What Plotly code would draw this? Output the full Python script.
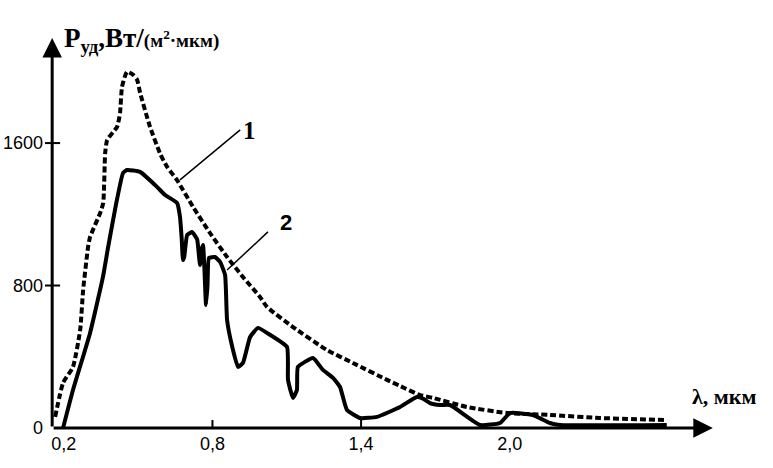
import plotly.graph_objects as go

# curve 1 - dashed (outside atmosphere)
lam1 = [0.165, 0.197, 0.237, 0.266, 0.278, 0.298, 0.306, 0.347, 0.359, 0.367, 0.375,
        0.415, 0.427, 0.435, 0.455, 0.480, 0.496, 0.508, 0.548, 0.589, 0.617, 0.657,
        0.722, 0.790, 0.859, 0.923, 0.992, 1.020, 1.125, 1.262, 1.367, 1.505, 1.557,
        1.638, 1.690, 1.827, 1.989, 2.162, 2.364, 2.634]
p1 = [62, 253, 343, 551, 775, 1017, 1073, 1208, 1264, 1545, 1618,
      1691, 1770, 1916, 2000, 1983, 1955, 1882, 1691, 1540, 1466, 1392,
      1241, 1095, 960, 848, 736, 680, 567, 438, 365, 270, 236,
      185, 169, 118, 84, 73, 56, 45]

# curve 2 - solid (earth surface)
lam2 = [0.197, 0.237, 0.306, 0.358, 0.379, 0.410, 0.439, 0.455, 0.508, 0.576, 0.609,
        0.657, 0.669, 0.676, 0.681, 0.686, 0.698, 0.718, 0.738, 0.746, 0.750, 0.756,
        0.762, 0.768, 0.774, 0.780, 0.786, 0.810, 0.831, 0.851, 0.859, 0.880, 0.903,
        0.923, 0.952, 0.984, 1.020, 1.101, 1.105, 1.125, 1.141, 1.145, 1.206, 1.246,
        1.287, 1.315, 1.343, 1.396, 1.464, 1.557, 1.625, 1.650, 1.678, 1.719, 1.759,
        1.880, 1.961, 2.001, 2.094, 2.162, 2.203, 2.634]
p2 = [0, 213, 534, 848, 1017, 1250, 1432, 1449, 1438, 1354, 1308,
      1264, 1185, 1060, 943, 960, 1084, 1100, 1060, 960, 915, 1000,
      1028, 880, 691, 800, 955, 960, 932, 859, 607, 455, 343,
      365, 511, 562, 534, 455, 270, 169, 213, 343, 393, 326,
      281, 230, 101, 56, 62, 118, 174, 165, 140, 129, 129,
      17, 28, 84, 73, 28, 17, 17]

x_ticks = [0.2, 0.8, 1.4, 2.0]
x_ticktext = ['0,2', '0,8', '1,4', '2,0']
y_ticks = [0, 800, 1600]
y_ticktext = ['0', '800', '1600']

x0_axis = 0.153   # where the vertical axis stands
x_end = 2.82      # arrow tip of lambda axis
y_end = 2190      # arrow tip of P axis

fig = go.Figure()
fig.add_trace(go.Scatter(x=lam1, y=p1, mode='lines',
                         line=dict(color='black', width=4, dash='6px,3px', shape='spline', smoothing=0.5)))
fig.add_trace(go.Scatter(x=lam2, y=p2, mode='lines',
                         line=dict(color='black', width=4, shape='spline', smoothing=0.4)))

# axes with arrows
fig.add_annotation(x=x_end, y=0, ax=x0_axis, ay=0, xref='x', yref='y', axref='x', ayref='y',
                   text='', showarrow=True, arrowhead=2, arrowsize=1.3, arrowwidth=3, arrowcolor='black')
fig.add_annotation(x=x0_axis, y=y_end, ax=x0_axis, ay=0, xref='x', yref='y', axref='x', ayref='y',
                   text='', showarrow=True, arrowhead=2, arrowsize=1.3, arrowwidth=3, arrowcolor='black')

# small tick marks
for v in [800, 1600]:
    fig.add_shape(type='line', x0=0.124, x1=0.185, y0=v, y1=v, xref='x', yref='y',
                  line=dict(color='black', width=2))
for v in [0.8, 1.4]:
    fig.add_shape(type='line', x0=v, x1=v, y0=0, y1=45, xref='x', yref='y',
                  line=dict(color='black', width=2))

# leader lines and curve numbers
fig.add_shape(type='line', x0=0.669, y0=1393, x1=0.912, y1=1674, line=dict(color='black', width=1.5))
fig.add_shape(type='line', x0=0.859, y0=887, x1=1.024, y1=1101, line=dict(color='black', width=1.5))
fig.add_annotation(x=0.950, y=1670, text='<b>1</b>', showarrow=False,
                   font=dict(family='Liberation Serif', size=25, color='black'))
fig.add_annotation(x=1.095, y=1155, text='<b>2</b>', showarrow=False,
                   font=dict(family='Liberation Sans', size=22, color='black'))

# axis titles
fig.add_annotation(x=0.026, xref='paper', y=0.975, yref='paper', xanchor='left', yanchor='middle',
                   text="<b>P<sub>уд</sub>,Вт/<span style='font-size:19px'>(м<sup>2</sup>·мкм)</span></b>",
                   showarrow=False, font=dict(family='Liberation Serif', size=27, color='black'))
fig.add_annotation(x=2.727, y=174, xanchor='left', yanchor='middle', text='<b>λ, мкм</b>',
                   showarrow=False, font=dict(family='Liberation Serif', size=22, color='black'))

fig.update_layout(
    width=773, height=468,
    margin=dict(l=44, r=50, t=30, b=37, autoexpand=False),
    plot_bgcolor='white', paper_bgcolor='white',
    showlegend=False,
    font=dict(family='Liberation Sans', size=18, color='black'),
)
fig.update_xaxes(range=[0.120, 2.861], showgrid=False, zeroline=False, showline=False,
                 tickvals=x_ticks, ticktext=x_ticktext, ticks='', automargin=False)
fig.update_yaxes(range=[-17, 2235], showgrid=False, zeroline=False, showline=False,
                 tickvals=y_ticks, ticktext=y_ticktext, ticks='', automargin=False)

# page body margin off so the figure sits at the window corner
fig.write_html('out.html', config={'displayModeBar': False},
               post_script="document.body.style.margin='0px';")
